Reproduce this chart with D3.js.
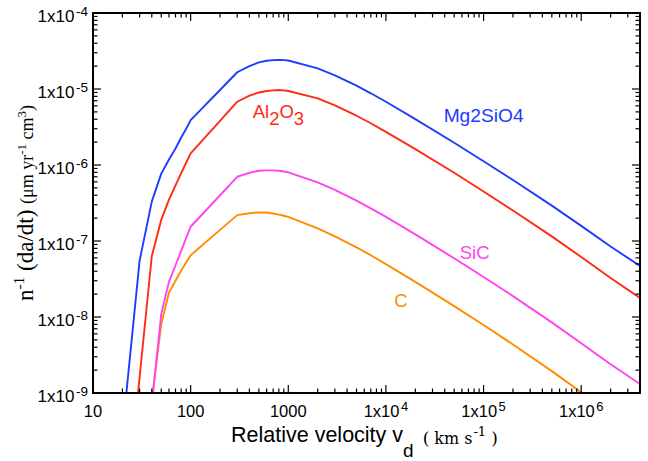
<!DOCTYPE html>
<html>
<head>
<meta charset="utf-8">
<script src="https://cdn.jsdelivr.net/npm/d3@7"></script>
<style>
  html, body { margin: 0; padding: 0; background: #fff; }
  svg { display: block; }
</style>
</head>
<body>
<svg id="chart" width="648" height="461"></svg>
<script>
// ---------------- data ----------------
const velocity = [20, 30, 40, 50, 60, 70, 80, 90, 100, 200, 300, 400, 500, 600, 700, 800, 900, 1000,
  2000, 3000, 5000, 7000, 1e4, 2e4, 5e4, 1e5, 2e5, 5e5, 1e6, 2e6, 4e6];

const mg2sio4 = [3e-10, 5.5e-8, 3.3e-7, 7.7e-7, 1.18e-6, 1.65e-6, 2.3e-6, 3.0e-6, 3.9e-6, 9.7e-6,
  1.66e-5, 2.0e-5, 2.24e-5, 2.35e-5, 2.4e-5, 2.42e-5, 2.4e-5, 2.37e-5,
  1.87e-5, 1.51e-5, 1.105e-5, 8.78e-6, 6.79e-6, 4.02e-6, 1.96e-6, 1.12e-6, 6.35e-7, 2.92e-7, 1.58e-7, 8.47e-8, 4.69e-8];

const al2o3 = [1e-11, 1.6e-9, 6.3e-8, 1.9e-7, 3.5e-7, 5.4e-7, 7.8e-7, 1.07e-6, 1.42e-6, 3.8e-6,
  6.8e-6, 8.2e-6, 9.0e-6, 9.4e-6, 9.6e-6, 9.7e-6, 9.6e-6, 9.4e-6,
  7.52e-6, 6.1e-6, 4.45e-6, 3.54e-6, 2.73e-6, 1.62e-6, 7.9e-7, 4.48e-7, 2.52e-7, 1.15e-7, 6.16e-8, 3.26e-8, 1.78e-8];

const sic = [1e-14, 1e-11, 6.9e-10, 1.1e-8, 2.9e-8, 4.8e-8, 7.4e-8, 1.1e-7, 1.54e-7, 4.0e-7,
  7.0e-7, 7.9e-7, 8.4e-7, 8.5e-7, 8.5e-7, 8.4e-7, 8.2e-7, 8.0e-7,
  5.9e-7, 4.72e-7, 3.39e-7, 2.69e-7, 2.08e-7, 1.22e-7, 5.92e-8, 3.36e-8, 1.88e-8, 8.5e-9, 4.52e-9, 2.39e-9, 1.31e-9];

const carbon = [1e-14, 1e-11, 8e-10, 8.1e-9, 2.1e-8, 3.0e-8, 4.1e-8, 5.2e-8, 6.5e-8, 1.4e-7,
  2.19e-7, 2.32e-7, 2.38e-7, 2.37e-7, 2.3e-7, 2.22e-7, 2.15e-7, 2.08e-7,
  1.47e-7, 1.15e-7, 8.24e-8, 6.49e-8, 4.97e-8, 2.9e-8, 1.39e-8, 7.85e-9, 4.35e-9, 1.94e-9, 1.02e-9, 5.3e-10, 2.84e-10];

const seriesNames = ["C", "Mg2SiO4", "Al2O3", "SiC"];
const seriesColors = ["#ff8c00", "#1e3cff", "#ff2a14", "#ff44ee"];
const seriesValues = [carbon, mg2sio4, al2o3, sic];

// label anchors (data coordinates: velocity, rate)
const labelAnchors = [[1.22e4, 1.36e-8], [3.9e4, 3.7e-6], [432, 4.1e-6], [5.7e4, 5.75e-8]];

const xMajorTicks = [10, 100, 1000, 1e4, 1e5, 1e6];
const xTickLabels = [["10", ""], ["100", ""], ["1000", ""], ["1x10", "4"], ["1x10", "5"], ["1x10", "6"]];
const yMajorTicks = [1e-9, 1e-8, 1e-7, 1e-6, 1e-5, 1e-4];
const yTickLabels = [["1x10", "-9"], ["1x10", "-8"], ["1x10", "-7"], ["1x10", "-6"], ["1x10", "-5"], ["1x10", "-4"]];

// ---------------- layout ----------------
const svg = d3.select("#chart");
const L = 93, R = 640, T = 13, B = 393;
const x = d3.scaleLog().domain([10, 4e6]).range([L, R]);
const y = d3.scaleLog().domain([1e-9, 1e-4]).range([B, T]);

// minor ticks
const xMinor = [];
for (let e = 1; e <= 6; e++) for (let m = 2; m <= 9; m++) { const v = m * Math.pow(10, e); if (v <= 4e6) xMinor.push(v); }
const yMinor = [];
for (let e = -9; e < -4; e++) for (let m = 2; m <= 9; m++) yMinor.push(m * Math.pow(10, e));

svg.append("defs").append("clipPath").attr("id", "plotclip")
  .append("rect").attr("x", L).attr("y", T).attr("width", R - L).attr("height", B - T);

// curves
const line = d3.line().x(d => x(d[0])).y(d => y(d[1]));
const curves = svg.append("g").attr("clip-path", "url(#plotclip)");
seriesValues.forEach((vals, i) => {
  const pts = velocity.map((v, j) => [v, vals[j]]);
  curves.append("path").datum(pts)
    .attr("d", line)
    .attr("fill", "none")
    .attr("stroke", seriesColors[i])
    .attr("stroke-width", 1.9)
    .attr("stroke-linejoin", "round");
});

// ticks (inside, all four sides)
const tk = svg.append("g").attr("stroke", "#000").attr("stroke-width", 1.2);
const MAJ = 8, MIN = 4.5;
xMajorTicks.forEach(v => {
  tk.append("line").attr("x1", x(v)).attr("x2", x(v)).attr("y1", B).attr("y2", B - MAJ);
  tk.append("line").attr("x1", x(v)).attr("x2", x(v)).attr("y1", T).attr("y2", T + MAJ);
});
xMinor.forEach(v => {
  tk.append("line").attr("x1", x(v)).attr("x2", x(v)).attr("y1", B).attr("y2", B - MIN);
  tk.append("line").attr("x1", x(v)).attr("x2", x(v)).attr("y1", T).attr("y2", T + MIN);
});
yMajorTicks.forEach(v => {
  tk.append("line").attr("y1", y(v)).attr("y2", y(v)).attr("x1", L).attr("x2", L + MAJ);
  tk.append("line").attr("y1", y(v)).attr("y2", y(v)).attr("x1", R).attr("x2", R - MAJ);
});
yMinor.forEach(v => {
  tk.append("line").attr("y1", y(v)).attr("y2", y(v)).attr("x1", L).attr("x2", L + MIN);
  tk.append("line").attr("y1", y(v)).attr("y2", y(v)).attr("x1", R).attr("x2", R - MIN);
});

// frame
svg.append("rect").attr("x", L).attr("y", T).attr("width", R - L).attr("height", B - T)
  .attr("fill", "none").attr("stroke", "#000").attr("stroke-width", 2);

// tick labels
const sans = "'Liberation Sans', Arial, Helvetica, sans-serif";
xMajorTicks.forEach((v, i) => {
  const t = svg.append("text").attr("x", x(v)).attr("y", B + 24)
    .attr("text-anchor", "middle").attr("font-family", sans).attr("font-size", 16.5).attr("fill", "#000");
  t.append("tspan").text(xTickLabels[i][0]);
  if (xTickLabels[i][1]) t.append("tspan").attr("dy", -6).attr("dx", 1.5).attr("font-size", 13).text(xTickLabels[i][1]);
});
yMajorTicks.forEach((v, i) => {
  const t = svg.append("text").attr("x", 88).attr("y", y(v) + 9)
    .attr("text-anchor", "end").attr("font-family", sans).attr("font-size", 17).attr("fill", "#000");
  t.append("tspan").text(yTickLabels[i][0]);
  t.append("tspan").attr("dy", -6).attr("dx", 1.5).attr("font-size", 13.5).text(yTickLabels[i][1]);
});

// series labels
const lab = svg.append("g").attr("font-family", sans).attr("font-size", 18.5);
lab.append("text").attr("x", x(labelAnchors[0][0])).attr("y", y(labelAnchors[0][1])).attr("fill", seriesColors[0]).text("C");
lab.append("text").attr("x", x(labelAnchors[1][0])).attr("y", y(labelAnchors[1][1])).attr("fill", seriesColors[1])
  .attr("font-size", 19.2).text("Mg2SiO4");
{
  const t = lab.append("text").attr("x", x(labelAnchors[2][0])).attr("y", y(labelAnchors[2][1])).attr("fill", seriesColors[2]);
  t.append("tspan").text("Al");
  t.append("tspan").attr("dy", 7).text("2");
  t.append("tspan").attr("dy", -7).text("O");
  t.append("tspan").attr("dy", 7).text("3");
}
lab.append("text").attr("x", x(labelAnchors[3][0])).attr("y", y(labelAnchors[3][1])).attr("fill", seriesColors[3]).text("SiC");

// x-axis title
{
  const ser = "'DejaVu Serif', serif";
  const t = svg.append("text").attr("x", 231).attr("y", 442).attr("fill", "#000").attr("font-family", sans).attr("font-size", 21.5);
  t.append("tspan").text("Relative velocity v");
  t.append("tspan").attr("dy", 15).attr("font-size", 19).text("d");
  t.append("tspan").attr("dy", -13).attr("dx", 9).attr("font-family", ser).attr("font-size", 17).text("(");
  t.append("tspan").attr("dx", 5).attr("font-family", ser).attr("font-size", 16).text("km s");
  t.append("tspan").attr("dy", -8).attr("dx", 1).attr("font-family", ser).attr("font-size", 13).text("-1");
  t.append("tspan").attr("dy", 8).attr("dx", 5).attr("font-family", ser).attr("font-size", 17).text(")");
}

// y-axis title
{
  const serif = "'Liberation Serif', 'Times New Roman', serif";
  const t = svg.append("text").attr("transform", "translate(33,203) rotate(-90)")
    .attr("text-anchor", "middle").attr("fill", "#000").attr("font-family", serif).attr("font-size", 23);
  t.append("tspan").text("n");
  t.append("tspan").attr("dy", -9).attr("font-size", 15.5).text("-1");
  t.append("tspan").attr("dy", 9).text(" (da/dt) ");
  t.append("tspan").attr("font-size", 18).text("(μm yr");
  t.append("tspan").attr("dy", -7).attr("font-size", 13).text("-1");
  t.append("tspan").attr("dy", 7).attr("font-size", 18).text(" cm");
  t.append("tspan").attr("dy", -7).attr("font-size", 13).text("3");
  t.append("tspan").attr("dy", 7).attr("font-size", 18).text(")");
}
</script>
</body>
</html>
